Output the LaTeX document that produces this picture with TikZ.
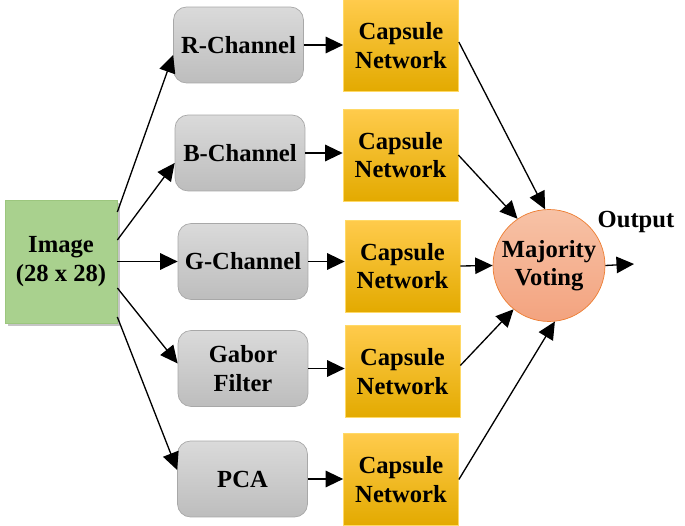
\documentclass[tikz,border=0pt]{standalone}
\usepackage{fontspec}
\setmainfont{Liberation Serif}
\usetikzlibrary{arrows.meta, shadows, positioning}
\definecolor{imgfill}{HTML}{A9D18E}
\definecolor{imgline}{HTML}{9CC67E}
\definecolor{chantop}{HTML}{DADADA}
\definecolor{chanbot}{HTML}{BDBDBD}
\definecolor{chanline}{HTML}{A8A8A8}
\definecolor{capstop}{HTML}{FFCB4C}
\definecolor{capsmid}{HTML}{FFC000}
\definecolor{capsbot}{HTML}{E3AA00}
\definecolor{capsline}{HTML}{FFD966}
\definecolor{votetop}{HTML}{F7C2A6}
\definecolor{votebot}{HTML}{F3A37F}
\definecolor{voteline}{HTML}{ED7D31}
\newcommand{\boxfont}{\fontsize{14}{16.2}\selectfont\bfseries}
\tikzset{> = {Triangle[length = 3.5mm, width = 3.3mm]}}
\tikzset{
	chan/.style = {draw = chanline, rounded corners = 2.6mm, top color = chantop, bottom color = chanbot, minimum width = 2.6cm, minimum height = 1.52cm, align = center, font = \boxfont},
	caps/.style = {draw = capsline, top color = capstop, middle color = capsmid, bottom color = capsbot, minimum width = 2.3cm, minimum height = 1.84cm, align = center, font = \boxfont},
	vote/.style = {draw = voteline, circle, top color = votetop, bottom color = votebot, minimum size = 2.24cm, inner sep = 0pt, align = center, font = \boxfont},
	flow/.style = {->, line width = 0.75pt}
}

\begin{document}
\begin{tikzpicture}[x = 0.02cm, y = -0.02cm]
		\useasboundingbox (0, 0) rectangle (685, 526);
		\node [draw = imgline, fill = imgfill, drop shadow = {shadow xshift = 0.6mm, shadow yshift = -0.6mm, fill = black!45}, minimum width = 2.24cm, minimum height = 2.46cm, align = center, font = \boxfont] (img) at (61, 261.5) {Image\\(28 x 28)};

		\node [chan] (rch) at (238.5, 45) {R-Channel};
		\node [chan] (bch) at (240, 153) {B-Channel};
		\node [chan] (gch) at (243, 261.5) {G-Channel};
		\node [chan] (gab) at (243, 368.5) {Gabor\\Filter};
		\node [chan] (pca) at (242.5, 479) {PCA};

		\node [caps] (cap1) at (401, 45.5) {Capsule\\Network};
		\node [caps] (cap2) at (400.5, 155) {Capsule\\Network};
		\node [caps] (cap3) at (402.5, 266) {Capsule\\Network};
		\node [caps] (cap4) at (402.5, 371.5) {Capsule\\Network};
		\node [caps] (cap5) at (401, 479.5) {Capsule\\Network};

		\node [vote] (mv) at (549, 265.5) {Majority\\Voting};
		\node [font = \boxfont] (out) at (636, 222) {Output};
		\coordinate (end) at (634, 264);

		% image to the five branches
		\draw [flow] ([yshift = 0.99cm]img.east) -- ([yshift = -0.2cm]rch.west);
		\draw [flow] ([yshift = 0.43cm]img.east) -- ([yshift = -0.2cm]bch.west);
		\draw [flow] (img.east) -- (img.east -| gch.west);
		\draw [flow] ([yshift = -0.53cm]img.east) -- ([yshift = 0.1cm]gab.west);
		\draw [flow] ([yshift = -1.11cm]img.east) -- ([yshift = 0.18cm]pca.west);

		\draw [flow] (rch) -- (rch -| cap1.west);
		\draw [flow] (bch) -- (bch -| cap2.west);
		\draw [flow] (gch) -- (gch -| cap3.west);
		\draw [flow] (gab) -- (gab -| cap4.west);
		\draw [flow] (pca) -- (pca -| cap5.west);

		\draw [flow] ([yshift = 0.07cm]cap1.east) -- (mv.94);
		\draw [flow] (cap2.east) -- (mv.124);
		\draw [flow] (cap3.east) -- (mv.west);
		\draw [flow] ([yshift = 0.12cm]cap4.east) -- (mv.231);
		\draw [flow] (cap5.east) -- (mv.276);
		\draw [flow] (mv.east) -- (end);
	\end{tikzpicture}
\end{document}
